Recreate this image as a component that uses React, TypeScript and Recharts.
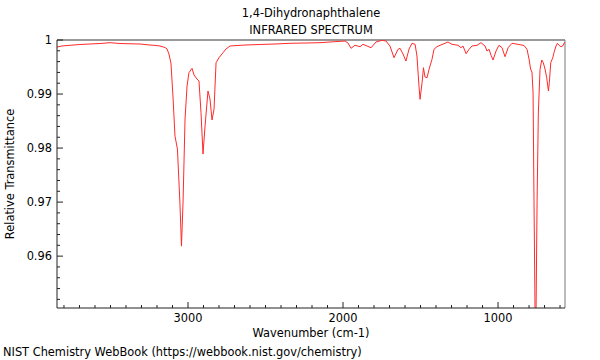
import { LineChart, Line, XAxis, YAxis, ReferenceLine } from "recharts";

// wavenumber (cm-1) left to right
const WAVENUMBERS = [
  3845, 3813, 3761, 3697, 3632, 3568, 3503, 3439, 3374, 3310, 3245, 3213, 3181,
  3148, 3135, 3123, 3110, 3097, 3084, 3068, 3052, 3042, 3032, 3019, 3006, 2994,
  2974, 2961, 2942, 2929, 2916, 2903, 2890, 2871, 2858, 2845, 2832, 2819, 2800,
  2774, 2755, 2729, 2632, 2535, 2439, 2342, 2245, 2148, 2052, 1987, 1968, 1948,
  1923, 1890, 1871, 1845, 1819, 1787, 1748, 1723, 1697, 1671, 1645, 1632, 1613,
  1594, 1574, 1555, 1535, 1523, 1510, 1503, 1490, 1481, 1471, 1458, 1445, 1426,
  1413, 1394, 1374, 1342, 1323, 1297, 1258, 1239, 1226, 1206, 1187, 1168, 1135,
  1110, 1084, 1071, 1058, 1045, 1032, 1013, 994, 974, 955, 935, 910, 871, 832,
  813, 800, 790, 781, 774, 768, 758, 748, 740, 729, 718, 708, 697, 686, 675, 669,
  660, 647, 639, 626, 617, 606, 594, 583, 572, 568,
];

const TRANSMITTANCE = [
  0.9987, 0.99889, 0.99902, 0.99917, 0.99926, 0.99935, 0.9995, 0.99935, 0.9993,
  0.99926, 0.99907, 0.999, 0.99889, 0.99861, 0.99833, 0.99741, 0.99574, 0.98963,
  0.98222, 0.97981, 0.96981, 0.96185, 0.96981, 0.98537, 0.99148, 0.99394,
  0.99476, 0.99352, 0.99278, 0.99241, 0.98654, 0.97889, 0.98407, 0.99056,
  0.98907, 0.98519, 0.98722, 0.9958, 0.99672, 0.99765, 0.99833, 0.99889,
  0.99907, 0.99917, 0.99926, 0.99939, 0.99944, 0.9995, 0.99969, 0.99981,
  0.99944, 0.99846, 0.99902, 0.99876, 0.9992, 0.99889, 0.99857, 0.99963,
  0.99994, 0.99981, 0.99889, 0.99672, 0.99828, 0.99846, 0.99741, 0.99611,
  0.99833, 0.99939, 0.9992, 0.99704, 0.99148, 0.98902, 0.99209, 0.99487,
  0.99315, 0.99302, 0.99457, 0.99643, 0.99828, 0.99876, 0.99902, 0.99939,
  0.99963, 0.9992, 0.99902, 0.99857, 0.99889, 0.99746, 0.99828, 0.99889,
  0.99902, 0.9995, 0.99889, 0.99796, 0.99828, 0.99717, 0.9963, 0.99796,
  0.99902, 0.99857, 0.99691, 0.99857, 0.99939, 0.9992, 0.99898, 0.99828,
  0.99648, 0.99463, 0.99407, 0.99019, 0.97037, 0.94, 0.97037, 0.98648, 0.99457,
  0.9963, 0.9958, 0.99463, 0.99302, 0.99056, 0.99209, 0.9958, 0.99672, 0.99765,
  0.99889, 0.99939, 0.99902, 0.99876, 0.99889, 0.9995, 0.99963,
];

const X_TICKS = [
  3800, 3700, 3600, 3500, 3400, 3300, 3200, 3100, 3000, 2900, 2800, 2700, 2600,
  2500, 2400, 2300, 2200, 2100, 2000, 1900, 1800, 1700, 1600, 1500, 1400, 1300,
  1200, 1100, 1000, 900, 800, 700, 600,
];
const X_LABELS = [3000, 2000, 1000];

const Y_TICKS = [
  0.952, 0.954, 0.956, 0.958, 0.96, 0.962, 0.964, 0.966, 0.968, 0.97, 0.972,
  0.974, 0.976, 0.978, 0.98, 0.982, 0.984, 0.986, 0.988, 0.99, 0.992, 0.994,
  0.996, 0.998, 1,
];
const Y_LABELS = [0.96, 0.97, 0.98, 0.99, 1];

const data = WAVENUMBERS.map((w, i) => ({ w, t: TRANSMITTANCE[i] }));

const FONT = "'DejaVu Sans', sans-serif";
const FS = 11.4;
const AXIS = "#222";

const XTick = (props: any) => {
  const { x, y, payload } = props;
  const major = X_LABELS.includes(payload.value);
  return (
    <g>
      <line x1={x} x2={x} y1={y} y2={y - (major ? 6 : 3)} stroke={AXIS} />
      {major && (
        <text x={x} y={y + 14} textAnchor="middle" fontSize={FS} fontFamily={FONT} fill="#000">
          {payload.value}
        </text>
      )}
    </g>
  );
};

const YTick = (props: any) => {
  const { x, y, payload } = props;
  const major = Y_LABELS.some((v) => Math.abs(v - payload.value) < 1e-9);
  return (
    <g>
      <line x1={x} x2={x + (major ? 6 : 3)} y1={y} y2={y} stroke={AXIS} />
      {major && (
        <text x={x - 5} y={y + 4} textAnchor="end" fontSize={FS} fontFamily={FONT} fill="#000">
          {payload.value === 1 ? "1" : payload.value}
        </text>
      )}
    </g>
  );
};

const txt = {
  position: "absolute" as const,
  fontFamily: FONT,
  fontSize: FS,
  lineHeight: "14px",
  color: "#000",
  whiteSpace: "nowrap" as const,
};

export default function App() {
  return (
    <div style={{ position: "absolute", left: 0, top: 0, width: 600, height: 360, background: "#fff" }}>
      <LineChart width={600} height={360} data={data} margin={{ top: 40, right: 35, bottom: 0, left: 0 }}>
        <XAxis
          dataKey="w"
          type="number"
          domain={[568, 3845]}
          reversed
          allowDataOverflow
          ticks={X_TICKS}
          interval={0}
          tickSize={0}
          tickMargin={0}
          tickLine={false}
          tick={XTick}
          height={52}
          axisLine={{ stroke: AXIS }}
        />
        <YAxis
          type="number"
          domain={[0.9504, 1]}
          allowDataOverflow
          ticks={Y_TICKS}
          interval={0}
          tickSize={0}
          tickMargin={0}
          tickLine={false}
          tick={YTick}
          width={57}
          axisLine={{ stroke: AXIS }}
        />
        <ReferenceLine y={1} stroke="#999" strokeWidth={2} />
        <ReferenceLine x={568} stroke="#777" strokeWidth={1} />
        <Line
          dataKey="t"
          type="linear"
          stroke="#ff2a2a"
          strokeWidth={1}
          dot={false}
          isAnimationActive={false}
        />
      </LineChart>
      <div style={{ ...txt, left: 311, top: 6, transform: "translateX(-50%)" }}>1,4-Dihydronaphthalene</div>
      <div style={{ ...txt, left: 311, top: 23, transform: "translateX(-50%)" }}>INFRARED SPECTRUM</div>
      <div style={{ ...txt, left: 311, top: 326, transform: "translateX(-50%)" }}>Wavenumber (cm-1)</div>
      <div style={{ ...txt, left: 10, top: 174, transform: "translate(-50%, -50%) rotate(-90deg)" }}>
        Relative Transmittance
      </div>
      <div style={{ ...txt, left: 3, top: 345 }}>NIST Chemistry WebBook (https://webbook.nist.gov/chemistry)</div>
    </div>
  );
}
